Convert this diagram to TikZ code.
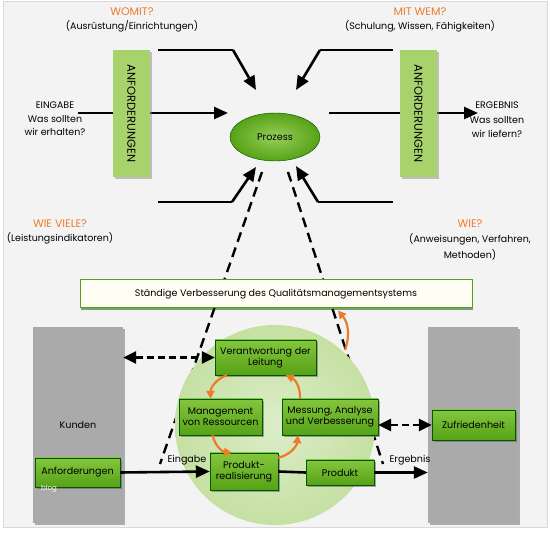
\documentclass[tikz,border=0pt]{standalone}
\usepackage{fontspec}
\setmainfont{Poppins}
\usetikzlibrary{shapes.geometric, shadows, arrows.meta}
\definecolor{bggray}{HTML}{F3F3F3}
\definecolor{boxlight}{HTML}{84C63E}
\definecolor{boxdark}{HTML}{56A216}
\definecolor{reqgreen}{HTML}{A8D36C}
\definecolor{circin}{HTML}{DCEDC8}
\definecolor{circout}{HTML}{C6E0A3}
\definecolor{qorange}{HTML}{EE7A2C}
\definecolor{sidegray}{HTML}{AAAAAA}
\newcommand\qmfont{\fontsize{9.6}{11}\selectfont}
\newcommand\frage[1]{{\color{qorange}\fontsize{11}{11}\selectfont #1}}
\tikzset{qmbox/.style={draw=green!35!black, top color=boxlight, bottom color=boxdark, align=center, inner sep=1pt, font=\qmfont,
                       drop shadow={shadow xshift=1.5pt, shadow yshift=-1.8pt, fill=black!65}},
         reqbox/.style={fill=reqgreen, rotate=-90, minimum width=127pt, minimum height=37pt, font=\fontsize{11.5}{12}\selectfont,
                        drop shadow={shadow xshift=2pt, shadow yshift=-2pt, fill=black!45}},
         sidebox/.style={fill=sidegray, minimum width=90pt, minimum height=196pt, font=\qmfont,
                         drop shadow={shadow xshift=2pt, shadow yshift=-2pt, fill=black!60}},
         note/.style={align=center, font=\fontsize{9.5}{14}\selectfont},
         flow/.style={line width=2.6pt, -{Triangle[length=14pt,width=12pt]}},
         plain/.style={line width=2.6pt},
         dflow/.style={line width=2.6pt, dash pattern=on 7pt off 4pt, {Triangle[length=13pt,width=12pt]}-{Triangle[length=13pt,width=12pt]}},
         dline/.style={line width=2.4pt, dash pattern=on 10pt off 6pt},
         cyc/.style={qorange, line width=2.2pt, -{Triangle[length=8pt,width=8pt]}},
        }

\begin{document}
\begin{tikzpicture}[x=1pt,y=-1pt]
        \useasboundingbox (0,0) rectangle (550,534);
        \fill[white] (0,0) rectangle (550,534);
        \draw[black!15, fill=bggray] (3,1) rectangle (547,527);

        % Prozess oben
        \node[note](womit)at(132,20){\frage{WOMIT?}\\(Ausrüstung/Einrichtungen)};
        \node[note](mitwem)at(420,20){\frage{MIT WEM?}\\(Schulung, Wissen, Fähigkeiten)};
        \node[note](wieviele)at(60,232){\frage{WIE VIELE?}\\(Leistungsindikatoren)};
        \node[note,font=\fontsize{9.5}{15.5}\selectfont](wie)at(470,240){\frage{WIE?}\\(Anweisungen, Verfahren,\\Methoden)};
        \node[note,font=\fontsize{9.5}{13.5}\selectfont](eingabetext)at(55,119){EINGABE\\Was sollten\\wir erhalten?};
        \node[note,font=\fontsize{9.5}{14.5}\selectfont](ergebnistext)at(497,120){ERGEBNIS\\Was sollten\\wir liefern?};

        \coordinate(inA)at(78,113);   \coordinate(inB)at(228,113);
        \coordinate(outA)at(329,113); \coordinate(outB)at(478,113);
        \draw[flow](inA)--(inB);
        \draw[flow](outA)--(outB);

        \node[reqbox](reqL)at(131.5,113.5){ANFORDERUNGEN};
        \node[reqbox](reqR)at(418.5,113.5){ANFORDERUNGEN};

        \node[ellipse,draw=green!30!black,inner color=boxlight!85!white,outer color=boxdark,
              minimum width=90pt,minimum height=48pt,font=\qmfont](prozess)at(275,137){Prozess};

        \coordinate(tlA)at(158,50);  \coordinate(tlK)at(233,50);  \coordinate(tlB)at(256,90);
        \coordinate(trA)at(393,50);  \coordinate(trK)at(320,50);  \coordinate(trB)at(296,90);
        \coordinate(blA)at(158,202); \coordinate(blK)at(232,202); \coordinate(blB)at(256,167);
        \coordinate(brA)at(393,202); \coordinate(brK)at(318,202); \coordinate(brB)at(296,166);
        \draw[plain](tlA)--(tlK); \draw[flow](tlK)--(tlB);
        \draw[plain](trA)--(trK); \draw[flow](trK)--(trB);
        \draw[plain](blA)--(blK); \draw[flow](blK)--(blB);
        \draw[plain](brA)--(brK); \draw[flow](brK)--(brB);

        % Trichter zum Prozessmodell
        \coordinate(pl)at(262,172); \coordinate(pr)at(288,172);
        \coordinate(eingabe)at(160,464); \coordinate(ergebnis)at(383,464);
        \draw[dline](pl)--(eingabe);
        \draw[dline](pr)--(ergebnis);

        \node[draw=boxdark,line width=1pt,fill=white!96!yellow,minimum width=392pt,minimum height=28pt,font=\fontsize{9.5}{11}\selectfont,
              drop shadow={shadow xshift=1pt,shadow yshift=-2pt,fill=green!30!black}](verbesserung)at(276,294)
              {Ständige Verbesserung des Qualitätsmanagementsystems};

        % Prozessmodell
        \node[circle,inner color=circin,outer color=circout,minimum size=200pt](kreis)at(275,425){};
        \node[sidebox](kunden)at(78,425){Kunden};
        \node[sidebox](zufriedenbox)at(473,425){};

        \node[qmbox,minimum width=101pt,minimum height=35pt](leitung)at(265.5,357.5){Verantwortung der\\Leitung};
        \node[qmbox,minimum width=83pt,minimum height=36pt](ressourcen)at(220.5,417){Management\\von Ressourcen};
        \node[qmbox,minimum width=96pt,minimum height=36pt](messung)at(330,417){Messung, Analyse\\und Verbesserung};
        \node[qmbox,minimum width=68pt,minimum height=37pt](realisierung)at(244,471.5){Produkt-\\realisierung};
        \node[qmbox,minimum width=68pt,minimum height=25pt](produkt)at(340,472.5){Produkt};
        \node[qmbox,minimum width=85pt,minimum height=29pt](anforderungen)at(77.5,472.5){Anforderungen};
        \node[qmbox,minimum width=83pt,minimum height=30pt](zufriedenheit)at(473.5,425){Zufriedenheit};
        \node[white,font=\fontsize{7}{8}\selectfont](blog)at(49,489){blog};

        \draw[flow](anforderungen.east)--(realisierung.west);
        \draw[plain](realisierung.east)--(produkt.west);
        \draw[flow](produkt.east)--(zufriedenbox.west|-produkt.east);
        \node[font=\qmfont](eingabelabel)at(187,460){Eingabe};
        \node[font=\qmfont](ergebnislabel)at(410,460){Ergebnis};

        \draw[dflow](kunden.east|-leitung.west)--(leitung.west);
        \draw[dflow](messung.east|-zufriedenheit.west)--(zufriedenheit.west);

        \draw[cyc]([xshift=12pt]leitung.south west)to[bend right=35]([xshift=-10pt]ressourcen.north);
        \draw[cyc]([xshift=-8pt]ressourcen.south)to[bend right=35]([xshift=-12pt]realisierung.north);
        \draw[cyc]([yshift=-5pt]realisierung.north east)to[bend right=35]([xshift=-32pt]messung.south);
        \draw[cyc]([xshift=-30pt]messung.north)to[bend right=35]([xshift=20pt]leitung.south);
        \coordinate(kreisrand)at(345,350);
        \draw[cyc](kreisrand)to[bend right=30]([xshift=62pt,yshift=-2pt]verbesserung.south);
    \end{tikzpicture}
\end{document}
